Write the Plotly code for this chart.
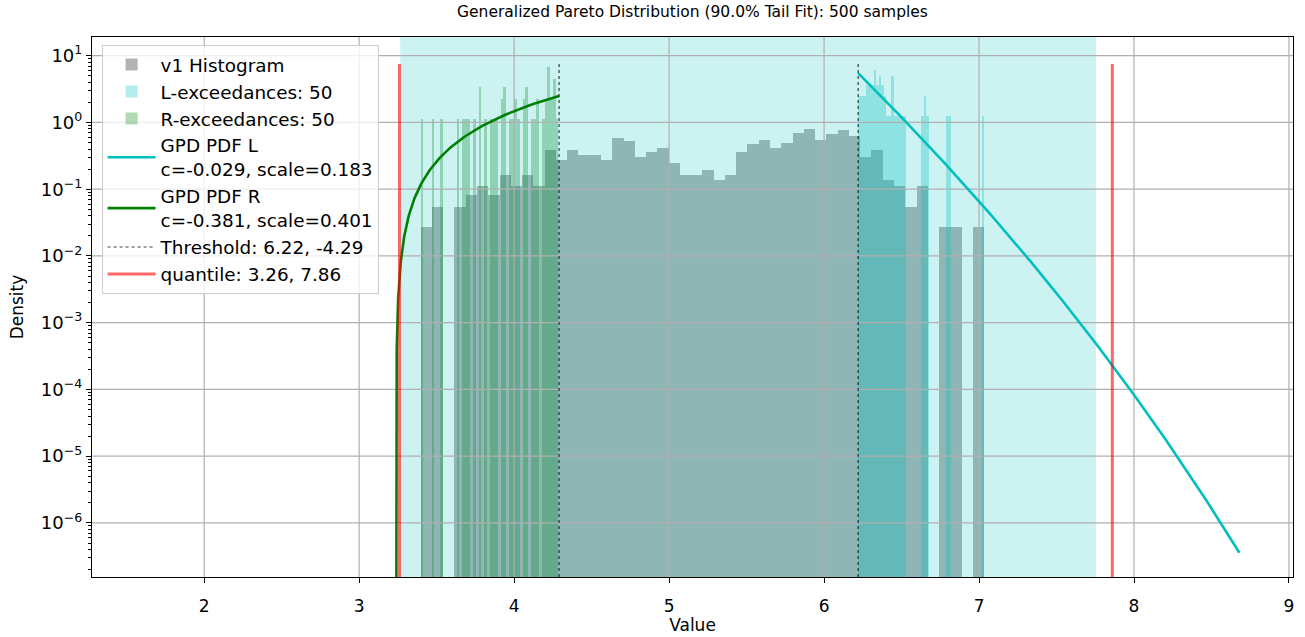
import numpy as np
import plotly.graph_objects as go

# ---------------- data ----------------
N_SAMPLES = 500

# full-sample histogram: 50 equal bins between the sample min and max
HIST_LO, HIST_HI = 3.397, 7.033
hist_counts = [1, 2, 0, 2, 3, 4, 3, 6, 4, 6, 4, 14,
               10, 14, 12, 12, 10, 21, 19, 11, 13, 15, 9, 6, 6, 7, 5, 6, 13,
               17, 20, 15, 18, 25, 29, 20, 24, 28, 23,
               11, 14, 5, 4, 2, 4, 0, 1, 1, 0, 1]

# lower-tail exceedances (below 4.29), 50 bins
R_LO, R_HI = 3.397, 4.286
r_counts = [1, 0, 0, 0, 1, 0, 0, 1, 0, 0,
            0, 0, 0, 1, 0, 1, 1, 1, 0, 1,
            0, 3, 0, 1, 0, 1, 1, 1, 0, 2,
            3, 0, 1, 1, 2, 1, 0, 2, 3, 0,
            1, 1, 2, 0, 1, 2, 6, 2, 4, 1]

# upper-tail exceedances (above 6.22), 50 bins
L_LO, L_HI = 6.222, 7.033
l_counts = [2, 2, 2, 3, 3, 3, 5, 3, 4, 3,
            2, 1, 1, 4, 1, 1, 1, 1, 1, 0,
            0, 0, 0, 0, 0, 1, 2, 1, 0, 0,
            0, 0, 0, 0, 0, 1, 1, 0, 0, 0,
            0, 0, 0, 0, 0, 0, 0, 0, 0, 1]

# fitted GPD parameters
GPD_L = dict(c=-0.029, scale=0.183, threshold=6.22)
GPD_R = dict(c=-0.381, scale=0.401, threshold=-4.29)
L_CURVE_END = 8.68
QUANTILES = [3.26, 7.86]
THRESHOLDS = [4.29, 6.22]
SPAN = [3.265, 7.754]

X_TICKS = [2, 3, 4, 5, 6, 7, 8, 9]
Y_EXPONENTS = [-6, -5, -4, -3, -2, -1, 0, 1]
X_RANGE = [1.276, 9.026]
Y_RANGE = [-6.81, 1.28]


def hist_bars(lo, hi, counts):
    n = len(counts)
    w = (hi - lo) / n
    total = sum(counts)
    left = lo + w * np.arange(n)
    dens = np.array(counts, dtype=float) / (total * w)
    keep = dens > 0
    return left[keep], dens[keep], w


def gpd_pdf(z, c, scale):
    t = 1.0 + c * z / scale
    out = np.zeros_like(z)
    ok = t > 0
    out[ok] = (1.0 / scale) * t[ok] ** (-1.0 / c - 1.0)
    return out


fig = go.Figure()

# histograms
hx, hy, hw = hist_bars(HIST_LO, HIST_HI, hist_counts)
fig.add_trace(go.Bar(x=hx, y=hy, width=hw, offset=0, name="v1 Histogram",
                     marker=dict(color="rgba(128,128,128,0.6)", line=dict(width=0)),
                     hoverinfo="skip"))

lx, ly, lw = hist_bars(L_LO, L_HI, l_counts)
fig.add_trace(go.Bar(x=lx, y=ly, width=lw, offset=0, name="L-exceedances: 50",
                     marker=dict(color="rgba(0,191,191,0.3)", line=dict(width=0)),
                     hoverinfo="skip"))

rx, ry, rw = hist_bars(R_LO, R_HI, r_counts)
fig.add_trace(go.Bar(x=rx, y=ry, width=rw, offset=0, name="R-exceedances: 50",
                     marker=dict(color="rgba(0,128,0,0.3)", line=dict(width=0)),
                     hoverinfo="skip"))

# shaded band over the bars
y_lo, y_hi = 10 ** Y_RANGE[0], 10 ** Y_RANGE[1]
fig.add_trace(go.Scatter(x=[SPAN[0], SPAN[1], SPAN[1], SPAN[0], SPAN[0]],
                         y=[y_lo, y_lo, y_hi, y_hi, y_lo], mode="lines",
                         fill="toself", fillcolor="rgba(0,191,191,0.2)",
                         line=dict(width=0), showlegend=False, hoverinfo="skip"))

# grid drawn above the bars but below the curves
GRID = "#b0b0b0"
for xv in X_TICKS:
    fig.add_trace(go.Scatter(x=[xv, xv], y=[y_lo, y_hi],
                             mode="lines", line=dict(color=GRID, width=1.2),
                             showlegend=False, hoverinfo="skip"))
for e in Y_EXPONENTS:
    fig.add_trace(go.Scatter(x=X_RANGE, y=[10.0 ** e, 10.0 ** e],
                             mode="lines", line=dict(color=GRID, width=1.2),
                             showlegend=False, hoverinfo="skip"))

# GPD pdf for the upper tail
xl = np.linspace(GPD_L["threshold"], L_CURVE_END, 400)
yl = gpd_pdf(xl - GPD_L["threshold"], GPD_L["c"], GPD_L["scale"])
fig.add_trace(go.Scatter(x=xl, y=yl, mode="lines",
                         name="GPD PDF L<br>c=-0.029, scale=0.183",
                         line=dict(color="#00bfbf", width=2.6), hoverinfo="skip"))

# GPD pdf for the lower tail (fitted on negated data)
r_end = GPD_R["threshold"] + GPD_R["scale"] / (-GPD_R["c"])
zr = (r_end - GPD_R["threshold"]) * (1 - np.geomspace(1e-7, 1, 500))
xr = -(GPD_R["threshold"] + zr)
yr = gpd_pdf(zr, GPD_R["c"], GPD_R["scale"])
fig.add_trace(go.Scatter(x=xr, y=np.where(yr > 0, yr, 1e-12), mode="lines",
                         name="GPD PDF R<br>c=-0.381, scale=0.401",
                         line=dict(color="#008000", width=2.6), hoverinfo="skip"))

# legend entries for the vertical markers
fig.add_trace(go.Scatter(x=[None], y=[None], mode="lines",
                         name="Threshold: 6.22, -4.29",
                         line=dict(color="rgba(0,0,0,0.75)", width=1.2, dash="dot")))
fig.add_trace(go.Scatter(x=[None], y=[None], mode="lines",
                         name="quantile: 3.26, 7.86",
                         line=dict(color="rgba(255,0,0,0.6)", width=3)))

shapes = []
for t in THRESHOLDS:
    shapes.append(dict(type="line", xref="x", yref="paper", x0=t, x1=t, y0=0, y1=0.95,
                       line=dict(color="rgba(0,0,0,0.75)", width=1.2, dash="dot"),
                       layer="above"))
for q in QUANTILES:
    shapes.append(dict(type="line", xref="x", yref="paper", x0=q, x1=q, y0=0, y1=0.95,
                       line=dict(color="rgba(255,0,0,0.6)", width=3), layer="above"))

FONT = "DejaVu Sans"
fig.update_layout(
    width=1305, height=637,
    margin=dict(l=92, r=12, t=37, b=60),
    paper_bgcolor="white", plot_bgcolor="white",
    barmode="overlay", bargap=0,
    font=dict(family=FONT, size=18, color="black"),
    title=dict(text="Generalized Pareto Distribution (90.0% Tail Fit): 500 samples",
               xref="paper", x=0.5, xanchor="center",
               yref="container", y=0.99, yanchor="top", automargin=False,
               font=dict(family=FONT, size=15.5, color="black")),
    shapes=shapes,
    legend=dict(x=0.008, y=0.985, xanchor="left", yanchor="top",
                bgcolor="rgba(255,255,255,0.8)", bordercolor="#cccccc", borderwidth=1,
                font=dict(family=FONT, size=18.4, color="black"),
                itemwidth=48, traceorder="normal"),
    showlegend=True,
)
fig.update_xaxes(range=X_RANGE, tickvals=X_TICKS, ticktext=[str(v) for v in X_TICKS],
                 automargin=False,
                 showgrid=False, zeroline=False, showline=True, mirror=True,
                 linecolor="black", linewidth=1.2, ticks="outside", ticklen=5,
                 tickcolor="black", ticklabelstandoff=8, tickfont=dict(size=17),
                 title=dict(text="Value", standoff=4, font=dict(size=17)))
fig.update_yaxes(type="log", range=Y_RANGE, automargin=False,
                 tickvals=[10.0 ** e for e in Y_EXPONENTS],
                 ticktext=["10<sup>%s</sup>" % (str(e).replace("-", "\u2212")) for e in Y_EXPONENTS],
                 showgrid=False, zeroline=False, showline=True, mirror=True,
                 linecolor="black", linewidth=1.2, ticks="outside", ticklen=5,
                 tickcolor="black", tickfont=dict(size=18),
                 minor=dict(ticks="outside", ticklen=3, tickcolor="black", dtick="D1", showgrid=False),
                 title=dict(text="Density", standoff=12, font=dict(size=17)))

fig.write_html("out.html")
